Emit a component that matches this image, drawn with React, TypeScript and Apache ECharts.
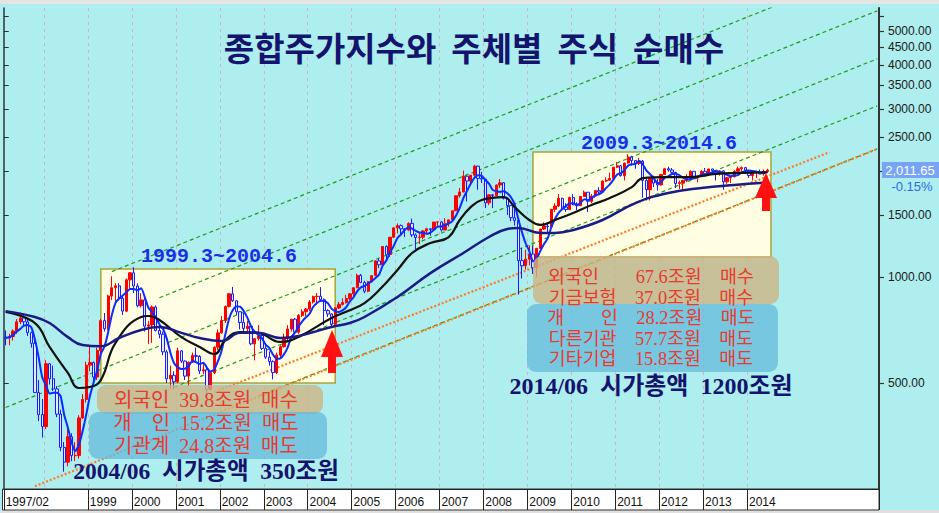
import React, { useEffect, useRef } from "react";
import * as echarts from "echarts";

// ---------- categories (monthly, 1997-02 .. 2016-12) ----------
const months: string[] = [];
for (let i = 0; i < 239; i++) {
  const t = 1997 * 12 + 1 + i;
  const y = Math.floor(t / 12);
  const m = (t % 12) + 1;
  months.push(`${y}-${m < 10 ? "0" + m : m}`);
}

// ---------- KOSPI monthly candles [open, close, low, high] ----------
const k1997 = [
  [675, 671, 640, 705], [671, 678, 640, 690], [678, 702, 660, 710], [702, 746, 690, 760],
  [746, 765, 735, 792], [765, 746, 725, 780], [746, 695, 680, 760], [695, 648, 630, 700],
  [648, 470, 470, 660], [470, 407, 390, 510], [407, 376, 350, 450],
];
const k1998 = [
  [376, 567, 370, 580], [567, 514, 495, 570], [514, 481, 475, 560], [481, 408, 400, 490],
  [408, 328, 320, 420], [328, 298, 280, 340], [298, 352, 290, 370], [352, 311, 300, 360],
  [311, 311, 300, 340], [311, 398, 305, 405], [398, 449, 395, 465], [449, 562, 440, 575],
];
const k1999 = [
  [562, 572, 540, 640], [572, 520, 500, 575], [520, 618, 510, 630], [618, 752, 610, 760],
  [752, 713, 700, 790], [713, 883, 705, 890], [883, 932, 860, 1005], [932, 944, 850, 960],
  [944, 871, 860, 960], [871, 800, 780, 880], [800, 982, 795, 990], [982, 1028, 925, 1033],
];
const k2000 = [
  [1028, 943, 900, 1066], [943, 829, 820, 960], [829, 861, 820, 900], [861, 725, 700, 870],
  [725, 731, 645, 750], [731, 822, 650, 830], [822, 705, 700, 830], [705, 688, 670, 740],
  [688, 613, 600, 700], [613, 514, 500, 620], [514, 526, 480, 560], [526, 504, 480, 540],
];
const k2001 = [
  [504, 617, 500, 630], [617, 577, 570, 620], [577, 523, 510, 580], [523, 573, 490, 575],
  [573, 599, 570, 610], [599, 595, 570, 630], [595, 541, 530, 600], [541, 545, 530, 570],
  [545, 480, 460, 560], [480, 535, 475, 540], [535, 632, 530, 635], [632, 694, 620, 710],
];
const k2002 = [
  [694, 752, 690, 775], [752, 825, 740, 830], [825, 896, 820, 900], [896, 856, 850, 937],
  [856, 797, 780, 860], [797, 743, 710, 800], [743, 714, 690, 790], [714, 725, 690, 750],
  [725, 646, 640, 730], [646, 668, 580, 670], [668, 682, 660, 730], [682, 627, 620, 690],
];
const k2003 = [
  [627, 592, 585, 640], [592, 575, 560, 615], [575, 535, 512, 580], [535, 600, 530, 610],
  [600, 634, 585, 640], [634, 670, 630, 690], [670, 712, 660, 730], [712, 759, 700, 760],
  [759, 697, 690, 765], [697, 778, 690, 785], [778, 797, 770, 810], [797, 811, 775, 815],
];
const k2004 = [
  [811, 849, 800, 860], [849, 880, 840, 885], [880, 882, 835, 900], [882, 862, 850, 936],
  [862, 803, 730, 870], [803, 785, 770, 810], [785, 735, 720, 790], [735, 817, 725, 820],
  [817, 836, 810, 850], [836, 846, 830, 870], [846, 869, 840, 890], [869, 896, 860, 900],
];
const k2005 = [
  [896, 932, 880, 935], [932, 1011, 930, 1022], [1011, 965, 960, 1020], [965, 911, 900, 975],
  [911, 970, 905, 975], [970, 1009, 965, 1012], [1009, 1111, 1005, 1115], [1111, 1083, 1060, 1130],
  [1083, 1221, 1075, 1225], [1221, 1159, 1110, 1230], [1159, 1297, 1140, 1300], [1297, 1379, 1290, 1380],
];
const k2006 = [
  [1379, 1399, 1330, 1420], [1399, 1371, 1310, 1410], [1371, 1359, 1300, 1370], [1359, 1420, 1350, 1430],
  [1420, 1317, 1300, 1465], [1317, 1295, 1200, 1330], [1295, 1297, 1240, 1340], [1297, 1352, 1280, 1360],
  [1352, 1371, 1320, 1380], [1371, 1364, 1310, 1375], [1364, 1432, 1360, 1435], [1432, 1434, 1390, 1440],
];
const k2007 = [
  [1434, 1360, 1345, 1440], [1360, 1417, 1360, 1470], [1417, 1453, 1390, 1455], [1453, 1542, 1450, 1545],
  [1542, 1701, 1540, 1705], [1701, 1744, 1680, 1790], [1744, 1933, 1740, 2005], [1933, 1874, 1640, 1940],
  [1874, 1946, 1850, 1950], [1946, 2065, 1930, 2085], [2065, 1906, 1770, 2070], [1906, 1897, 1850, 1990],
];
const k2008 = [
  [1897, 1624, 1570, 1900], [1624, 1712, 1600, 1720], [1712, 1704, 1570, 1720], [1704, 1825, 1700, 1830],
  [1825, 1852, 1790, 1900], [1852, 1674, 1660, 1860], [1674, 1595, 1500, 1680], [1595, 1474, 1440, 1600],
  [1474, 1448, 1400, 1570], [1448, 1113, 892, 1460], [1113, 1076, 990, 1210], [1076, 1124, 1050, 1195],
];
const k2009 = [
  [1124, 1162, 1080, 1230], [1162, 1063, 1020, 1230], [1063, 1206, 1000, 1210], [1206, 1369, 1200, 1370],
  [1369, 1396, 1360, 1430], [1396, 1390, 1340, 1430], [1390, 1557, 1380, 1560], [1557, 1591, 1530, 1620],
  [1591, 1673, 1580, 1720], [1673, 1581, 1560, 1680], [1581, 1555, 1530, 1620], [1555, 1683, 1550, 1690],
];
const k2010 = [
  [1683, 1602, 1600, 1720], [1602, 1594, 1550, 1630], [1594, 1693, 1590, 1700], [1693, 1741, 1690, 1760],
  [1741, 1641, 1530, 1740], [1641, 1698, 1620, 1720], [1698, 1759, 1680, 1760], [1759, 1743, 1720, 1800],
  [1743, 1873, 1740, 1880], [1873, 1883, 1860, 1920], [1883, 1905, 1880, 1980], [1905, 2051, 1890, 2055],
];
const k2011 = [
  [2051, 2069, 2040, 2120], [2069, 1939, 1930, 2080], [1939, 2107, 1880, 2110], [2107, 2192, 2100, 2231],
  [2192, 2142, 2070, 2210], [2142, 2101, 2030, 2140], [2101, 2133, 2080, 2180], [2133, 1880, 1680, 2150],
  [1880, 1770, 1650, 1900], [1770, 1910, 1650, 1920], [1910, 1848, 1800, 1940], [1848, 1826, 1760, 1900],
];
const k2012 = [
  [1826, 1956, 1820, 1960], [1956, 2030, 1950, 2040], [2030, 2014, 1990, 2057], [2014, 1982, 1960, 2040],
  [1982, 1843, 1790, 1990], [1843, 1854, 1780, 1880], [1854, 1881, 1760, 1890], [1881, 1906, 1860, 1960],
  [1906, 1996, 1900, 2010], [1996, 1912, 1910, 2000], [1912, 1933, 1860, 1940], [1933, 1997, 1930, 2010],
];
const k2013 = [
  [1997, 1962, 1930, 2040], [1962, 2027, 1940, 2030], [2027, 2005, 1960, 2030], [2005, 1964, 1880, 2010],
  [1964, 2001, 1940, 2010], [2001, 1863, 1770, 2010], [1863, 1915, 1840, 1920], [1915, 1926, 1850, 1930],
  [1926, 1997, 1920, 2010], [1997, 2030, 1990, 2060], [2030, 2045, 1990, 2060], [2045, 2011, 1960, 2050],
];
const k2014 = [
  [2011, 1941, 1910, 2010], [1941, 1980, 1880, 1990], [1980, 1986, 1910, 2000], [1986, 1962, 1960, 2020],
  [1962, 1995, 1940, 2020], [1995, 2011.65, 1980, 2030],
];

// ---------- moving averages ----------
const maMidMonths = ["1997-02", "1997-10", "1998-02", "1998-07", "1998-10", "1999-01", "1999-04", "1999-08", "2000-03", "2000-05", "2000-08", "2001-02", "2001-07", "2001-11", "2002-02", "2002-06", "2002-11", "2003-05", "2003-10", "2004-07", "2004-12", "2005-04", "2005-08", "2006-01", "2006-05", "2006-10", "2007-03", "2007-06", "2007-09", "2007-12", "2008-06", "2008-09", "2009-01", "2009-04", "2009-08", "2010-01", "2010-06", "2010-11", "2011-05", "2011-08", "2012-02", "2012-09", "2013-04", "2013-11", "2014-06"];
const maMidValues = [796, 740, 633, 534, 484, 487, 510, 650, 770, 775, 755, 675, 633, 604, 662, 698, 694, 654, 676, 765, 805, 843, 918, 1047, 1170, 1249, 1299, 1452, 1580, 1655, 1686, 1580, 1452, 1406, 1452, 1520, 1602, 1676, 1800, 1910, 1923, 1923, 1962, 1976, 1984];
const maLongMonths = ["1997-02", "1997-10", "1998-02", "1998-07", "1998-11", "1999-04", "1999-09", "2000-03", "2000-08", "2001-02", "2001-07", "2002-01", "2002-06", "2002-11", "2003-05", "2003-10", "2004-07", "2004-12", "2005-04", "2006-01", "2006-10", "2007-07", "2008-02", "2008-07", "2008-10", "2009-04", "2009-08", "2010-01", "2010-09", "2011-06", "2012-03", "2012-12", "2013-09", "2014-06"];
const maLongValues = [800, 770, 740, 675, 641, 636, 671, 707, 721, 694, 671, 658, 694, 694, 671, 680, 721, 740, 770, 877, 1026, 1170, 1299, 1369, 1378, 1334, 1334, 1360, 1452, 1622, 1733, 1790, 1826, 1855];

// ---------- channel lines [month, value] ----------
const greenLineA = [["1999-07", 1036], ["2016-12", 7690]];
const greenLineB = [["2000-08", 873], ["2016-12", 5700]];
const greenLineC = [["1997-02", 426], ["2016-12", 4165]];
const greenLineD = [["2000-12", 487], ["2016-12", 3062]];
const greenLineE = [["2002-11", 459], ["2016-12", 2312]];
const orangeLineUpper = [["2001-11", 471], ["2015-11", 2262]];
const orangeLineLower = [["1997-10", 254.5], ["2016-12", 2310]];

// ---------- boxes [startMonth, endMonth, low, high] ----------
const box1999 = ["1999-04", "2004-08", 500, 1054];
const box2009 = ["2009-02", "2014-07", 1140, 2265];

// ---------- annotation texts ----------
const W = "\u3000"; // ideographic space
const S = "\u00A0\u00A0";
const S3 = "\u00A0\u00A0\u00A0\u00A0";
const notes2004 = [`외국인${S}39.8조원${S}매수`, `개${W}인${S}15.2조원${S}매도`, `기관계${S}24.8조원${S}매도`];
const cap2004 = `2004/06${S}시가총액${S}350조원`;
const notes2014 = [
  `외국인${W}${W}67.6조원${S3}매수`,
  `기금보험${W}37.0조원${S3}매수`,
  `개${W}${W}인${W}28.2조원${S3}매도`,
  `다른기관${W}57.7조원${S3}매도`,
  `기타기업${W}15.8조원${S3}매도`,
];
const cap2014 = `2014/06${S}시가총액${S}1200조원`;

// ---------- axis ticks ----------
const yTickValues = [500, 1000, 1500, 2000, 2500, 3000, 3500, 4000, 4500, 5000, 5500];
const yLabelValues = [500, 1000, 1500, 2500, 3000, 3500, 4000, 4500, 5000];
const yMin = 250;
const yMax = 5808;

const lg = (v: number) => Math.log10(v);

export default function App() {
  const ref = useRef<HTMLDivElement>(null);

  useEffect(() => {
    if (!ref.current) return;
    const chart = echarts.init(ref.current, undefined, { renderer: "svg" });

    const ohlc = [
      ...k1997, ...k1998, ...k1999, ...k2000, ...k2001, ...k2002, ...k2003, ...k2004, ...k2005,
      ...k2006, ...k2007, ...k2008, ...k2009, ...k2010, ...k2011, ...k2012, ...k2013, ...k2014,
    ];
    const closes = ohlc.map((r) => r[1]);
    const candles = ohlc.map((r) => r.map(lg));
    const ma5 = closes.map((_, i) => {
      const s = closes.slice(Math.max(0, i - 4), i + 1);
      return lg(s.reduce((a, b) => a + b, 0) / s.length);
    });
    const pairs = (ms: string[], vs: number[]) => ms.map((m, i) => [months.indexOf(m), lg(vs[i])]);
    const seg = (p: (string | number)[][]) =>
      p.map(([m, v]) => [months.indexOf(m as string), lg(v as number)]);

    const monthOf = (v: string) => v.slice(5);
    const yearOf = (v: string) => parseInt(v.slice(0, 4), 10);
    const labelShow = (i: number, v: string) =>
      i === 0 || (monthOf(v) === "01" && yearOf(v) !== 1998 && yearOf(v) <= 2014);
    const splitShow = (_i: number, v: string) =>
      monthOf(v) === "01" && yearOf(v) >= 1998 && yearOf(v) <= 2014;

    const axisFont = "'Liberation Sans', Arial, sans-serif";
    const kr = "'Noto Sans CJK KR', sans-serif";
    const krSerif = "'Liberation Serif', 'Noto Sans CJK KR', serif";
    const NB = "\u00A0";
    const S2 = NB + NB;

    const greenStyle = { color: "#1f9c1f", width: 1.2, type: [4, 3] as number[] };
    const orangeStyle = { color: "#ff7a22", width: 2.2, type: [2, 2] as number[] };
    const chanSeries = (p: (string | number)[][], style: any) => ({
      type: "line",
      data: seg(p),
      symbol: "none",
      silent: true,
      z: 2,
      lineStyle: style,
    });

    const txt = (text: string, x: number, y: number, size: number, color: string, weight: string, family: string) => ({
      type: "text",
      z: 20,
      silent: true,
      style: {
        text, x, y, fill: color, fontSize: size, fontWeight: weight, fontFamily: family,
        align: "center", verticalAlign: "middle", textAlign: "center", textVerticalAlign: "middle",
      },
    });
    const panel = (x: number, y: number, w: number, h: number, fill: string) => ({
      type: "rect",
      z: 15,
      silent: true,
      shape: { x, y, width: w, height: h, r: 9 },
      style: { fill },
    });
    const arrow = (cx: number, tip: number, base: number, bottom: number) => ({
      type: "polygon",
      z: 22,
      silent: true,
      shape: {
        points: [
          [cx, tip], [cx + 11, base], [cx + 4, base], [cx + 4, bottom],
          [cx - 4, bottom], [cx - 4, base], [cx - 11, base],
        ],
      },
      style: { fill: "#ff1111" },
    });

    const tan = "rgba(205,180,130,0.8)";
    const blue = "rgba(100,185,220,0.75)";
    const red = "#e83a2e";
    const navy = "#14146e";
    const last = closes[closes.length - 1];

    const noteBlock = (rows: string[], cap: string, x: number, top: number, rowH: number, rowFs: number, capFs: number, capH: number) => ({
      type: "text",
      z: 20,
      silent: true,
      style: {
        text: [...rows.map((r) => `{r|${r}}`), `{n|${cap}}`].join("\n"),
        x,
        y: top,
        align: "center",
        verticalAlign: "top",
        textAlign: "center",
        textVerticalAlign: "top",
        rich: {
          r: { fontSize: rowFs, fill: red, fontFamily: krSerif, lineHeight: rowH, align: "center" },
          n: { fontSize: capFs, fill: navy, fontFamily: krSerif, fontWeight: "bold", lineHeight: capH, align: "center" },
        },
      },
    });

    const yCommon = {
      type: "value",
      min: lg(yMin),
      max: lg(yMax),
      splitLine: { show: false },
    };

    chart.setOption({
      animation: false,
      backgroundColor: "#aeeeee",
      grid: { left: 3.8, right: 60, top: 8, bottom: 24, containLabel: false },
      xAxis: {
        type: "category",
        data: months,
        boundaryGap: true,
        axisLine: { show: true, lineStyle: { color: "#222", width: 1 } },
        axisTick: {
          show: true,
          interval: (i: number, v: string) => labelShow(i, v),
          length: 21,
          lineStyle: { color: "#222", width: 1 },
        },
        axisLabel: {
          interval: (i: number, v: string) => labelShow(i, v),
          formatter: (v: string, i: number) => (i === 0 ? v.replace("-", "/") : v.slice(0, 4)),
          align: "left",
          margin: 7,
          color: "#111",
          fontSize: 12,
          fontFamily: axisFont,
        },
        splitLine: {
          show: true,
          interval: (i: number, v: string) => splitShow(i, v),
          lineStyle: { color: "#d2b2be", type: [3, 4], width: 1 },
        },
      },
      yAxis: [
        {
          ...yCommon,
          position: "right",
          axisLine: { show: true, onZero: false, lineStyle: { color: "#333", width: 2 } },
          axisTick: { show: true, customValues: yTickValues.map(lg), length: 5, lineStyle: { color: "#333", width: 1.2 } },
          axisLabel: {
            show: true,
            customValues: yLabelValues.map(lg),
            formatter: (v: number) => Math.round(Math.pow(10, v)).toFixed(2),
            margin: 9,
            color: "#1a1a1a",
            fontSize: 12,
            fontFamily: axisFont,
          },
        },
        {
          ...yCommon,
          position: "left",
          axisLine: { show: true, onZero: false, lineStyle: { color: "#333", width: 1.5 } },
          axisTick: { show: true, inside: true, customValues: yTickValues.map(lg), length: 5, lineStyle: { color: "#333" } },
          axisLabel: { show: false },
        },
      ],
      series: [
        {
          type: "line",
          data: [],
          z: -1,
          silent: true,
          markArea: {
            silent: true,
            label: { show: false },
            itemStyle: { color: "#fffee2", borderColor: "#aaa238", borderWidth: 1.5 },
            data: [box1999, box2009].map((b) => [
              { xAxis: b[0], yAxis: lg(b[3] as number) },
              { xAxis: b[1], yAxis: lg(b[2] as number) },
            ]),
          },
        },
        chanSeries(greenLineA, greenStyle),
        chanSeries(greenLineB, greenStyle),
        chanSeries(greenLineC, greenStyle),
        chanSeries(greenLineD, greenStyle),
        chanSeries(greenLineE, greenStyle),
        chanSeries(orangeLineUpper, orangeStyle),
        chanSeries(orangeLineLower, orangeStyle),
        {
          type: "candlestick",
          data: candles,
          barWidth: 2.8,
          z: 3,
          silent: true,
          itemStyle: {
            color: "#ff0000",
            color0: "#e4eaff",
            borderColor: "#ff0000",
            borderColor0: "#1a1aff",
            borderWidth: 1,
          },
        },
        {
          type: "line",
          data: ma5,
          symbol: "none",
          smooth: 0.2,
          z: 4,
          silent: true,
          lineStyle: { color: "#0a2cff", width: 2 },
        },
        {
          type: "line",
          data: pairs(maMidMonths, maMidValues),
          symbol: "none",
          smooth: 0.45,
          z: 4,
          silent: true,
          lineStyle: { color: "#111111", width: 2.2 },
        },
        {
          type: "line",
          data: pairs(maLongMonths, maLongValues),
          symbol: "none",
          smooth: 0.45,
          z: 4,
          silent: true,
          lineStyle: { color: "#1b1b88", width: 2.5 },
        },
      ],
      graphic: [
        { type: "rect", z: -2, silent: true, shape: { x: 0, y: 0, width: 939, height: 4 }, style: { fill: "#e4e4e4" } },
        { type: "rect", z: -2, silent: true, shape: { x: 0, y: 510, width: 939, height: 3 }, style: { fill: "#e0e0e0" } },
        {
          type: "rect", z: -2, silent: true,
          shape: { x: 2.5, y: 489, width: 876.5, height: 21 },
          style: { fill: "#ffffff", stroke: "#333", lineWidth: 1 },
        },
        txt(`종합주가지수와${S2}주체별${S2}주식${S2}순매수`, 474, 47, 33, navy, "bold", kr),
        txt("1999.3~2004.6", 219, 256, 20, "#1a2ee8", "bold", "'Liberation Mono', monospace"),
        txt("2009.3~2014.6", 659, 143, 20, "#1a2ee8", "bold", "'Liberation Mono', monospace"),
        panel(97, 385, 226, 29, tan),
        panel(89, 412, 238, 47, blue),
        noteBlock(notes2004, cap2004, 206, 388.5, 23, 20, 23.5, 27),
        panel(533, 256, 246, 48, tan),
        panel(527, 304, 251, 68, blue),
        noteBlock(notes2014, cap2014, 651, 266.75, 20.5, 18.4, 24, 33),
        arrow(332, 330, 357, 373),
        arrow(766, 173, 198, 211),
        { type: "rect", z: 20, silent: true, shape: { x: 882, y: 162, width: 57, height: 16 }, style: { fill: "#78a4f6" } },
        txt(last.toLocaleString("en-US", { minimumFractionDigits: 2 }), 910, 170, 13, "#ffffff", "normal", axisFont),
        txt("-0.15%", 912, 186, 13, "#2f6be8", "normal", axisFont),
      ],
    });

    return () => chart.dispose();
  }, []);

  return <div ref={ref} style={{ position: "fixed", left: 0, top: 0, width: 939, height: 513 }} />;
}
